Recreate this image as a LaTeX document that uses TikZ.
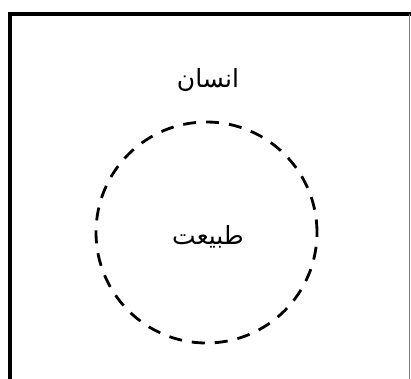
\documentclass[tikz,border=0pt]{standalone}
\usepackage{fontspec}
\newfontfamily\arabicfont[Script=Arabic]{DejaVu Sans}
\TeXXeTstate=1
\begin{document}
\begin{tikzpicture}[x=1pt,y=-1pt,
  label/.style={font=\arabicfont\fontsize{25}{28}\selectfont, inner sep=0pt},
  frameline/.style={line width=4pt, black},
  ring/.style={draw=black, line width=2.8pt, dash pattern=on 13pt off 10pt}]
\useasboundingbox (0,0) rectangle (411,378);
\fill[white] (0,0) rectangle (411,378);
\coordinate (bl) at (9.5,380);
\coordinate (tl) at (9.5,14);
\coordinate (tr) at (411,14);
\coordinate (rt) at (409.8,14);
\coordinate (rb) at (409.8,380);
\draw[frameline] (bl) -- (tl) -- (tr);
\draw[gray, line width=1pt] (rt) -- (rb);
\node[circle, ring, minimum size=221pt, inner sep=0pt] (c) at (206.5,232.5) {};
\node[label] (man) at (208,80) {\beginR انسان\endR};
\node[label] (nat) at (208,237) {\beginR طبیعت\endR};
\end{tikzpicture}
\end{document}
